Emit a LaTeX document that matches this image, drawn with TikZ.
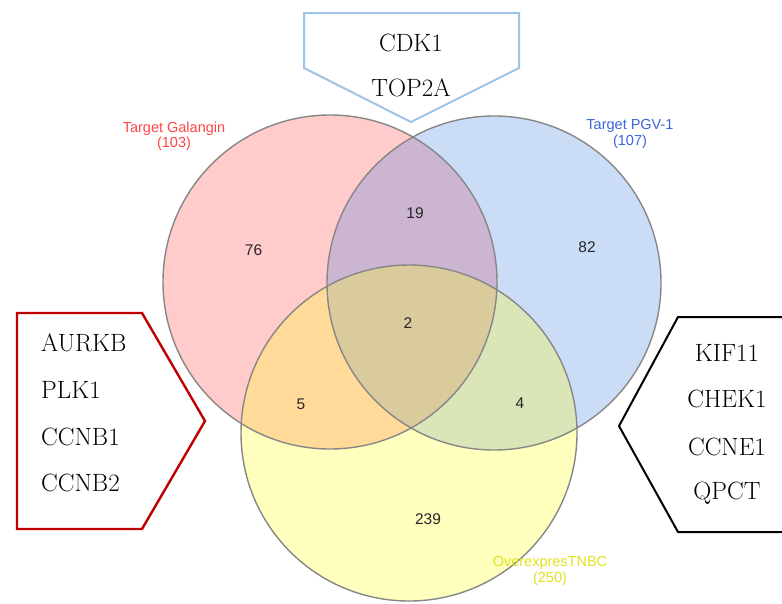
\documentclass[tikz,border=0pt]{standalone}
\usepackage{fontspec}
\newfontfamily\arialf{Liberation Sans}
\definecolor{redf}{RGB}{255,51,51}
\definecolor{bluef}{RGB}{51,119,227}
\definecolor{yellowf}{RGB}{255,255,40}
\definecolor{circline}{RGB}{135,135,135}
\definecolor{lbl}{RGB}{157,195,230}
\definecolor{calred}{RGB}{192,0,0}
\definecolor{redtxt}{RGB}{255,70,70}
\definecolor{bluetxt}{RGB}{60,100,220}
\definecolor{yeltxt}{RGB}{225,225,30}
\tikzset{
  circline/.style={draw=circline, line width=1.4pt},
  num/.style={font=\arialf\fontsize{15.5}{18}\selectfont, text=black!85, inner sep=0pt},
  setlbl/.style={font=\arialf\fontsize{14.5}{15.5}\selectfont, align=center, inner sep=0pt},
  gene/.style={font=\fontsize{25}{28}\selectfont, inner sep=0pt},
}
\begin{document}
\begin{tikzpicture}[x=1pt,y=-1pt]
\useasboundingbox (0,0) rectangle (782,603);
\fill[white] (0,0) rectangle (782,603);
% circle centres
\coordinate (cR) at (330,282);
\coordinate (cB) at (494,283);
\coordinate (cY) at (409,433);
% fills
\fill[redf, fill opacity=.25] (cR) circle[radius=167pt];
\fill[bluef, fill opacity=.25] (cB) circle[radius=167pt];
\fill[yellowf, fill opacity=.3] (cY) circle[radius=168pt];
% outlines
\draw[circline] (cR) circle[radius=167pt];
\draw[circline] (cB) circle[radius=167pt];
\draw[circline] (cY) circle[radius=168pt];
% numbers
\node[num] (n76) at (253.5,250) {76};
\node[num] (n19) at (415,213) {19};
\node[num] (n82) at (587,247) {82};
\node[num] (n2) at (408,323) {2};
\node[num] (n5) at (301,404) {5};
\node[num] (n4) at (520,403) {4};
\node[num] (n239) at (428,519) {239};
% set labels
\node[setlbl, text=redtxt] (lG) at (174,136) {Target Galangin\\(103)};
\node[setlbl, text=bluetxt] (lP) at (630,134) {Target PGV-1\\(107)};
\node[setlbl, text=yeltxt] (lY) at (550,571) {OverexpresTNBC\\(250)};
% top callout
\draw[lbl, line width=2pt, line join=miter] (304,13) -- (519,13) -- (519,68) -- (411,122) -- (304,68) -- cycle;
\node[gene] (cdk) at (411,43) {CDK1};
\node[gene] (top) at (411,88) {TOP2A};
% left callout
\draw[calred, line width=2.4pt, line join=miter] (17,313) -- (142,313) -- (205,421) -- (142,529) -- (17,529) -- cycle;
\node[gene, anchor=west] (g1) at (41,343) {AURKB};
\node[gene, anchor=west] (g2) at (41,390) {PLK1};
\node[gene, anchor=west] (g3) at (41,437) {CCNB1};
\node[gene, anchor=west] (g4) at (41,483) {CCNB2};
% right callout
\draw[black, line width=2pt, line join=miter] (783,317) -- (678,317) -- (619,426) -- (678,532) -- (783,532);
\node[gene] (k1) at (727,353) {KIF11};
\node[gene] (k2) at (727,399) {CHEK1};
\node[gene] (k3) at (727,447) {CCNE1};
\node[gene] (k4) at (727,493) {QPCT};
\end{tikzpicture}
\end{document}
